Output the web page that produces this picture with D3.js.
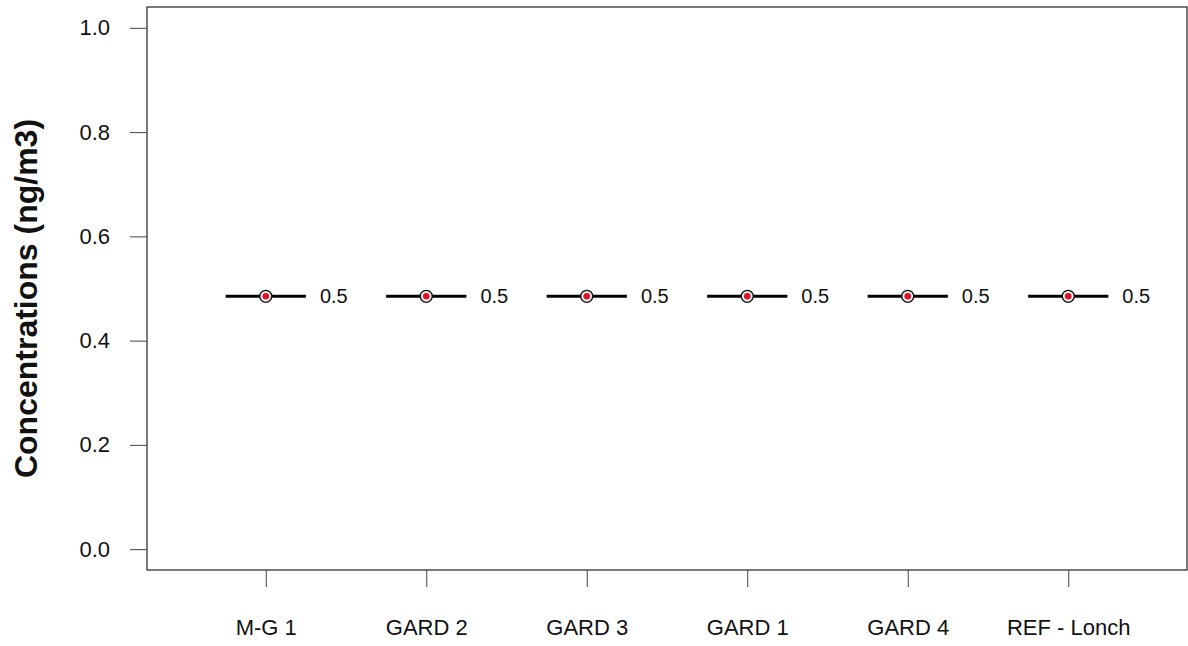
<!DOCTYPE html>
<html><head><meta charset="utf-8">
<script src="https://cdn.jsdelivr.net/npm/d3@7"></script>
<style>body{margin:0;background:#fff}svg{display:block}text{font-family:"Liberation Sans",Arial,sans-serif}</style>
</head><body>
<svg id="c" width="1188" height="646"></svg>
<script>
const categories = ["M-G 1","GARD 2","GARD 3","GARD 1","GARD 4","REF - Lonch"];
const values = [0.485,0.485,0.485,0.485,0.485,0.485];
const labels = ["0.5","0.5","0.5","0.5","0.5","0.5"];
const yTicks = [0.0,0.2,0.4,0.6,0.8,1.0];

const svg = d3.select("#c");
const L=147, R=1187, T=7, B=570;
const x = d3.scaleLinear().domain([0.26,6.74]).range([L,R]);
const y = d3.scaleLinear().domain([-0.04,1.04]).range([B,T]);

svg.append("rect").attr("x",L).attr("y",T).attr("width",R-L).attr("height",B-T)
  .attr("fill","none").attr("stroke","#222").attr("stroke-width",1.2);

const yAxis = svg.append("g").attr("transform",`translate(${L},0)`)
  .call(d3.axisLeft(y).tickValues(yTicks).tickFormat(d3.format(".1f")).tickSize(17).tickPadding(20));
yAxis.select(".domain").remove();
yAxis.selectAll("line").attr("stroke","#444");
yAxis.selectAll("text").attr("font-size",22).attr("fill","#111");

const xAxis = svg.append("g").attr("transform",`translate(0,${B})`)
  .call(d3.axisBottom(x).tickValues(d3.range(1,categories.length+1)).tickFormat(i=>categories[i-1]).tickSize(17).tickPadding(32));
xAxis.select(".domain").remove();
xAxis.selectAll("line").attr("stroke","#444");
xAxis.selectAll("text").attr("font-size",22).attr("fill","#111");

svg.append("text").attr("transform",`translate(37,${(T+B)/2 + 10}) rotate(-90)`)
  .attr("text-anchor","middle").attr("font-size",32).attr("font-weight","bold").attr("fill","#111")
  .text("Concentrations (ng/m3)");

const g = svg.append("g");
categories.forEach((c,i)=>{
  const cx = x(i+1), cy = y(values[i]);
  g.append("line").attr("x1",x(i+1-0.25)).attr("x2",x(i+1+0.25)).attr("y1",cy).attr("y2",cy)
    .attr("stroke","#000").attr("stroke-width",3);
  g.append("circle").attr("cx",cx).attr("cy",cy).attr("r",6).attr("fill","#eee").attr("stroke","#111").attr("stroke-width",1.3);
  g.append("circle").attr("cx",cx).attr("cy",cy).attr("r",3.3).attr("fill","#e0102a");
  g.append("text").attr("x",x(i+1+0.25)+14).attr("y",cy).attr("dy","0.35em")
    .attr("font-size",20).attr("fill","#111").text(labels[i]);
});
</script>
</body></html>
